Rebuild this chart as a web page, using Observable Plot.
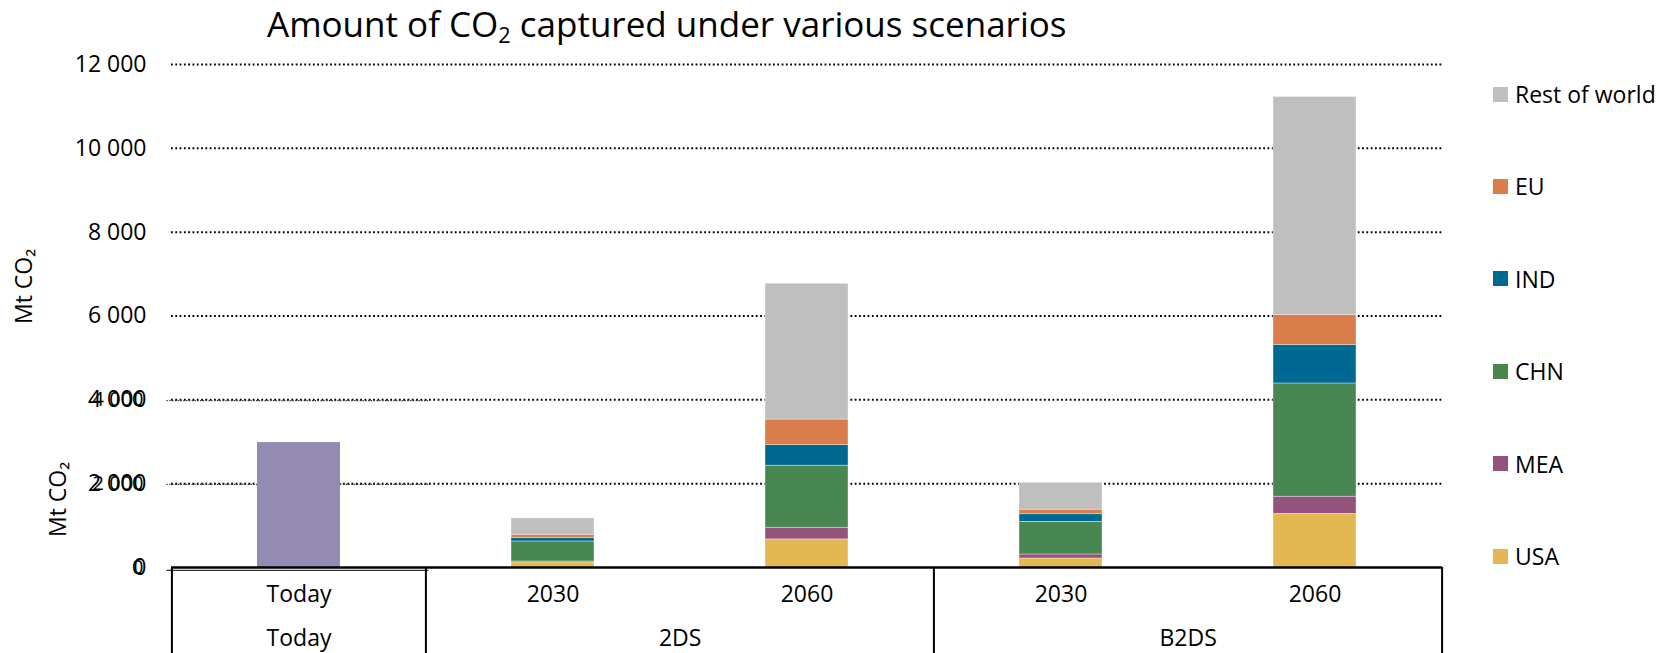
<!DOCTYPE html>
<html><head><meta charset="utf-8">
<script src="https://cdn.jsdelivr.net/npm/d3@7"></script>
<script src="https://cdn.jsdelivr.net/npm/@observablehq/plot@0.6"></script>
<style>
html,body{margin:0;padding:0;background:#fff;}
body{width:1675px;height:653px;position:relative;overflow:hidden;font-family:'Open Sans',sans-serif;color:#000;}
#title{height:44px;position:relative;}
#title span{position:absolute;left:267px;top:0px;font-size:35px;white-space:nowrap;line-height:normal;}
#title sub{font-size:0.62em;vertical-align:-0.28em;line-height:0;}
#chart svg{display:block;}
#legend{position:absolute;left:1493px;top:0;}
.item{position:absolute;left:0;display:flex;align-items:center;white-space:nowrap;font-size:23px;height:32px;transform:translateY(-50%);}
.sw{width:15px;height:15px;margin-right:7px;flex:none;}
</style></head><body>
<div id="title"><span>Amount of CO<sub>2</sub> captured under various scenarios</span></div>
<div id="chart"></div>
<div id="legend"></div>
<script>
// ---- data ----
const categories = ["Today", "2DS 2030", "2DS 2060", "B2DS 2030", "B2DS 2060"];
const yearLabels = ["Today", "2030", "2060", "2030", "2060"];
const groupNames = ["Today", "2DS", "B2DS"];
const groupStarts = ["Today", "2DS 2030", "B2DS 2030"];
const regions = ["USA", "MEA", "CHN", "IND", "EU", "Rest of world"];
const regionColors = ["#E3B852", "#92547C", "#488752", "#006991", "#D97E4A", "#BFBFBF"];
const todayValue = 2980;
const stackedCats = ["2DS 2030", "2DS 2060", "B2DS 2030", "B2DS 2060"];
const usa  = [120,  670,  215, 1280];
const mea  = [ 24,  280,   95,  410];
const chn  = [477, 1480,  780, 2700];
const ind  = [ 88,  490,  180,  920];
const eu   = [ 72,  610,  110,  715];
const rest = [389, 3240,  640, 5200];
const yTicks = [0, 2000, 4000, 6000, 8000, 10000, 12000];
const overlayTicks = [0, 2000, 4000];
const yLabel = "Mt CO\u2082";

// ---- layout ----
const W = 1675, H = 609, ML = 171, MR = 233, MT = 20, MB = 86;
const step = (W - ML - MR) / categories.length;
const barFrac = 0.327;
const pad = step * (1 - barFrac) / 2;

const series = {"USA": usa, "MEA": mea, "CHN": chn, "IND": ind, "EU": eu, "Rest of world": rest};
const stackData = stackedCats.flatMap((cat, j) => regions.map(r => ({cat, region: r, value: series[r][j]})));
const todayData = [{cat: "Today", value: todayValue}];
const yearData = categories.map((cat, i) => ({cat, label: yearLabels[i]}));
const groupData = groupStarts.map((cat, i) => ({cat, label: groupNames[i]}));
const fmt = d => d3.format(",")(d).replace(/,/g, " ");

const plot = Plot.plot({
  width: W, height: H,
  marginLeft: ML, marginRight: MR, marginTop: MT, marginBottom: MB,
  style: {fontFamily: "'Open Sans', sans-serif", fontSize: "23px", color: "#000", background: "#fff", overflow: "visible"},
  x: {domain: categories, paddingInner: 1 - barFrac, paddingOuter: (1 - barFrac) / 2, axis: null, label: null},
  y: {domain: [0, 12000], axis: null, label: null},
  color: {domain: regions, range: regionColors},
  marks: [
    Plot.ruleY(yTicks.filter(d => d > 0), {stroke: "#000", strokeWidth: 2, strokeDasharray: "1.8,2.5"}),
    Plot.ruleY(overlayTicks.filter(d => d > 0), {x1: d => "Today", x2: d => "Today", insetLeft: -(pad + 5), insetRight: -(pad + 3), dy: 0.8, stroke: "#333", strokeWidth: 1.3, strokeDasharray: "1.3,1.5"}),
    Plot.barY(todayData, {x: "cat", y: "value", fill: "#948BB3"}),
    Plot.barY(stackData, {x: "cat", y: "value", fill: "region", stroke: "#fff", strokeWidth: 0.6, strokeOpacity: 0.6}),
    Plot.ruleY([0], {stroke: "#000", strokeWidth: 2.5}),
    Plot.ruleY([0], {x1: d => "Today", x2: d => "Today", insetLeft: -(pad + 5), insetRight: -(pad + 3), dy: 2.8, stroke: "#333", strokeWidth: 1.3}),
    Plot.axisX(groupStarts, {dx: -step / 2, tickSize: MB, tickFormat: () => "", label: null, stroke: "#000", strokeWidth: 2}),
    Plot.axisX([categories[categories.length - 1]], {dx: step / 2, tickSize: MB, tickFormat: () => "", label: null, stroke: "#000", strokeWidth: 2}),
    Plot.text(yearData, {x: "cat", text: "label", frameAnchor: "bottom", dy: 34, fontSize: 23}),
    Plot.text(groupData.slice(0, 1), {x: "cat", text: "label", frameAnchor: "bottom", dy: 78, fontSize: 23}),
    Plot.text(groupData.slice(1), {x: "cat", text: "label", frameAnchor: "bottom", dx: step / 2, dy: 78, fontSize: 23}),
    Plot.text(yTicks, {y: d => d, text: d => fmt(d), frameAnchor: "left", textAnchor: "end", dx: -25, fontSize: 23}),
    Plot.text(overlayTicks, {y: d => d, text: d => fmt(d), frameAnchor: "left", textAnchor: "end", dx: -28, fontSize: 20}),
    Plot.text([yLabel], {frameAnchor: "left", dx: 24 - ML, dy: 8, rotate: -90, fontSize: 23}),
    Plot.text([yLabel], {frameAnchor: "left", dx: 58 - ML, dy: 221, rotate: -90, fontSize: 23})
  ]
});
document.getElementById("chart").appendChild(plot);

// ---- legend (top to bottom: reverse stack order) ----
const legend = document.getElementById("legend");
regions.slice().reverse().forEach((r, i) => {
  const item = document.createElement("div");
  item.className = "item";
  item.style.top = (94 + i * 92.4) + "px";
  const sw = document.createElement("div");
  sw.className = "sw";
  sw.style.background = regionColors[regions.indexOf(r)];
  const t = document.createElement("span");
  t.textContent = r;
  item.appendChild(sw); item.appendChild(t);
  legend.appendChild(item);
});
</script></body></html>
